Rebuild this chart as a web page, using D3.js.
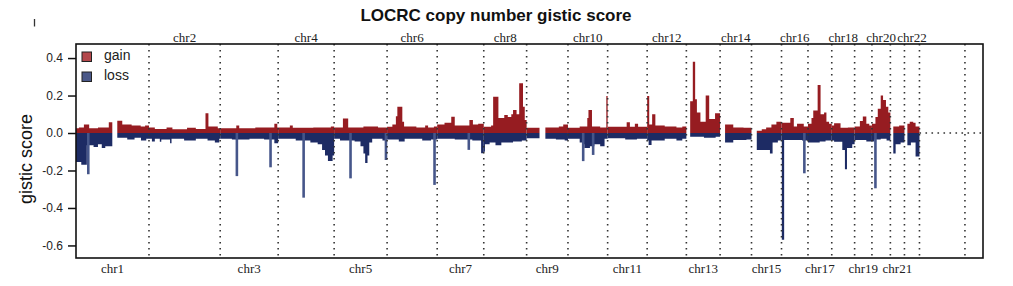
<!DOCTYPE html>
<html>
<head>
<meta charset="utf-8">
<script src="https://cdn.jsdelivr.net/npm/d3@7"></script>
<style>
body{margin:0;background:#fff}
svg{display:block}
</style>
</head>
<body>
<div id="chart"></div>
<script>
// chromosomes and their lengths (Mb)
var chroms=["chr1","chr2","chr3","chr4","chr5","chr6","chr7","chr8","chr9","chr10","chr11","chr12",
            "chr13","chr14","chr15","chr16","chr17","chr18","chr19","chr20","chr21","chr22","chrX"];
var chromLen=[249.3,243.2,198.0,191.2,180.9,171.1,159.1,146.4,141.2,135.5,135.0,133.9,
              115.2,107.3,102.5,90.4,81.2,78.1,59.1,63.0,48.1,51.3,155.3];

// gistic profile, one list per chromosome: [start Mb, score] holds until next start, null = no data
var gain=[
  [[0,0.025],[10,0.03],[27,0.046],[45,0.025],[75,0.03],[112,0.057],[124,null],[141,0.066],[158,0.045],[190,0.04],[221,0.035],[236,0.04]],
  [[0,0.03],[20,0.022],[60,0.03],[80,0.02],[130,0.028],[160,0.022],[193,0.105],[203,0.035],[235,0.025]],
  [[0,0.025],[55,0.04],[65,0.025],[120,0.03],[185,0.05],[195,0.03]],
  [[0,0.03],[40,0.04],[50,0.028],[120,0.03],[180,0.035]],
  [[0,0.03],[30,0.078],[48,0.03],[100,0.035],[150,0.03]],
  [[0,0.034],[18,0.045],[30,0.09],[35,0.14],[52,0.06],[58,0.035],[100,0.03],[130,0.04],[140,0.03],[160,0.035]],
  [[0,0.045],[25,0.055],[48,0.087],[60,0.04],[110,0.07],[122,0.045],[140,0.05]],
  [[0,0.034],[25,0.04],[32,0.194],[50,0.08],[70,0.096],[82,0.085],[94,0.1],[100,0.123],[112,0.1],[121,0.265],[134,0.14],[140,0.07]],
  [[0,0.028],[44,null],[64,0.03],[110,0.035],[125,0.046]],
  [[0,0.028],[40,0.035],[66,0.08],[70,0.123],[82,0.035],[110,0.03],[131,0.197]],
  [[0,0.034],[65,0.057],[76,0.034],[93,0.05],[104,0.034]],
  [[0,0.197],[7,0.045],[17,0.1],[28,0.04],[60,0.035],[100,0.03],[120,0.035]],
  [[0,null],[13,0.17],[22,0.38],[30,0.18],[36,0.11],[48,0.06],[66,0.2],[78,0.075],[98,0.105]],
  [[0,null],[17,0.046],[45,0.03],[80,0.028]],
  [[0,null],[18,0.012],[35,0.02],[50,0.03],[68,0.045],[85,0.06]],
  [[0,0.055],[30,0.08],[42,0.035],[53,0.05],[76,0.035]],
  [[0,0.05],[12,0.08],[18,0.12],[33,0.256],[43,0.1],[55,0.11],[63,0.06],[72,0.05]],
  [[0,0.04],[8,0.052],[30,0.028],[55,0.03]],
  [[0,0.035],[18,0.064],[28,0.088],[40,0.05],[50,0.04]],
  [[0,0.05],[12,0.085],[20,0.13],[30,0.2],[38,0.176],[48,0.14],[56,0.11]],
  [[0,null],[10,0.035],[30,0.04]],
  [[0,null],[10,0.05],[18,0.06],[30,0.055],[38,0.035]],
  []
];
var loss=[
  [[0,-0.155],[18,-0.17],[37,-0.065],[60,-0.075],[75,-0.06],[88,-0.08],[100,-0.07],[124,null],[141,-0.025],[175,-0.035],[200,-0.025],[222,-0.04],[240,-0.03]],
  [[0,-0.03],[10,-0.045],[20,-0.03],[37,-0.046],[42,-0.035],[72,-0.055],[77,-0.03],[120,-0.04],[160,-0.03],[200,-0.04],[225,-0.05],[240,-0.03]],
  [[0,-0.03],[40,-0.035],[100,-0.03],[150,-0.035],[185,-0.055]],
  [[0,-0.03],[60,-0.04],[110,-0.05],[135,-0.06],[150,-0.09],[160,-0.12],[170,-0.15],[186,-0.12]],
  [[0,-0.03],[20,-0.04],[70,-0.045],[90,-0.07],[100,-0.11],[106,-0.16],[114,-0.12],[120,-0.05],[130,-0.03],[165,-0.04]],
  [[0,-0.035],[40,-0.045],[60,-0.03],[120,-0.04],[150,-0.035]],
  [[0,-0.03],[60,-0.035],[120,-0.04],[150,-0.108]],
  [[0,-0.1],[4,-0.06],[20,-0.05],[40,-0.065],[60,-0.05],[100,-0.045],[130,-0.04]],
  [[0,-0.028],[44,null],[64,-0.03],[100,-0.035],[130,-0.04]],
  [[0,-0.03],[40,-0.05],[50,-0.06],[56,-0.08],[75,-0.07],[90,-0.06],[110,-0.07],[125,-0.03]],
  [[0,-0.028],[60,-0.035],[100,-0.03]],
  [[0,-0.04],[5,-0.064],[15,-0.04],[60,-0.03],[100,-0.04],[120,-0.03]],
  [[0,null],[13,-0.02],[60,-0.025],[100,-0.02]],
  [[0,null],[17,-0.05],[45,-0.037],[90,-0.035]],
  [[0,null],[18,-0.09],[63,-0.11],[72,-0.05],[90,-0.04]],
  [[0,-0.04],[1,-0.57],[9,-0.037],[70,-0.04]],
  [[0,-0.05],[40,-0.045],[60,-0.04]],
  [[0,-0.04],[8,-0.046],[36,-0.09],[45,-0.194],[52,-0.08],[70,-0.06]],
  [[0,-0.037],[40,-0.045]],
  [[0,-0.045],[8,-0.035],[30,-0.03],[50,-0.04]],
  [[0,null],[10,-0.11],[18,-0.06],[35,-0.05]],
  [[0,null],[10,-0.065],[22,-0.05],[38,-0.126]],
  []
];
// thin single-probe loss peaks: [chromosome, Mb, score]
var lossSpikes=[["chr1",42,-0.22],["chr3",57,-0.23],["chr3",172,-0.183],["chr4",87,-0.345],
  ["chr5",56,-0.242],["chr5",177,-0.144],["chr6",162,-0.277],["chr7",108,-0.09],
  ["chr10",52,-0.15],["chr10",86,-0.117],["chr16",78,-0.215],["chr20",12,-0.295]];
var yTicks=[-0.6,-0.4,-0.2,0,0.2,0.4];

var W=1013,H=286;
var margin={top:44,right:983,bottom:258,left:76};

var svg=d3.select("#chart").append("svg").attr("width",W).attr("height",H);

// cumulative offsets
var offs=[],acc=0;
chromLen.forEach(function(l){offs.push(acc);acc+=l;});

var x=d3.scaleLinear().domain([0,3098]).range([margin.left,margin.right]);
var y=d3.scaleLinear().domain([-0.667,0.475]).range([margin.bottom,margin.top]);

// turn step lists into continuous runs
function runs(steps,len){
  var out=[],cur=null;
  steps.forEach(function(s,i){
    var end=i<steps.length-1?steps[i+1][0]:len;
    if(s[1]===null){cur=null;return;}
    if(!cur){cur=[];out.push(cur);}
    cur.push([s[0],s[1]]);
    if(i===steps.length-1||steps[i+1][1]===null) cur.push([end,s[1]]);
  });
  return out;
}

var plot=svg.append("g");

function drawProfile(list,color){
  list.forEach(function(steps,ci){
    var off=offs[ci];
    var area=d3.area()
      .x(function(d){return x(off+d[0]);})
      .y0(y(0))
      .y1(function(d){return y(d[1]);})
      .curve(d3.curveStepAfter);
    runs(steps,chromLen[ci]).forEach(function(r){
      plot.append("path").attr("d",area(r)).attr("fill",color);
    });
  });
}
drawProfile(loss,"#1d2b64");
drawProfile(gain,"#961c21");

plot.selectAll("line.spike")
  .data(lossSpikes)
  .enter()
  .append("line")
  .attr("class","spike")
  .attr("x1",function(d){return x(offs[chroms.indexOf(d[0])]+d[1]);})
  .attr("x2",function(d){return x(offs[chroms.indexOf(d[0])]+d[1]);})
  .attr("y1",y(0))
  .attr("y2",function(d){return y(d[2]);})
  .attr("stroke","#46568a")
  .attr("stroke-width",2.6);

// chromosome separators
svg.append("g").selectAll("line")
  .data(chromLen)
  .enter()
  .append("line")
  .attr("x1",function(d,i){return x(offs[i]+d);})
  .attr("x2",function(d,i){return x(offs[i]+d);})
  .attr("y1",margin.top)
  .attr("y2",margin.bottom)
  .attr("stroke","#333")
  .attr("stroke-width",1.6)
  .attr("stroke-dasharray","1.6,4.4");

// empty chrX baseline
svg.append("line")
  .attr("x1",x(offs[22])).attr("x2",margin.right)
  .attr("y1",y(0)).attr("y2",y(0))
  .attr("stroke","#333").attr("stroke-width",1.6)
  .attr("stroke-dasharray","1.6,4.4");

// box
svg.append("rect")
  .attr("x",margin.left).attr("y",margin.top)
  .attr("width",margin.right-margin.left).attr("height",margin.bottom-margin.top)
  .attr("fill","none").attr("stroke","#111").attr("stroke-width",1.6);

// y axis
var yAxis=svg.append("g")
  .attr("transform","translate("+margin.left+",0)")
  .call(d3.axisLeft(y).tickValues(yTicks).tickSize(8).tickPadding(5)
    .tickFormat(function(d){return d.toFixed(1);}));
yAxis.select(".domain").remove();
yAxis.selectAll("line").attr("stroke","#111").attr("stroke-width",1.5);
yAxis.selectAll("text").attr("fill","#222")
  .style("font-family","'Liberation Sans',Arial,sans-serif").style("font-size","12px");

// chromosome labels: odd below, even above
svg.append("g").selectAll("text")
  .data(chroms.slice(0,22))
  .enter()
  .append("text")
  .attr("x",function(d,i){return x(offs[i]+chromLen[i]/2);})
  .attr("y",function(d,i){return i%2===0?273:41.5;})
  .attr("text-anchor","middle")
  .style("font-family","'Liberation Serif','Times New Roman',serif")
  .style("font-size","13px")
  .attr("fill","#222")
  .text(function(d){return d;});

// title
svg.append("text")
  .attr("x",496).attr("y",20.5)
  .attr("text-anchor","middle")
  .style("font-family","'Liberation Sans',Arial,sans-serif")
  .style("font-size","17px").style("font-weight","bold")
  .attr("fill","#111")
  .text("LOCRC copy number gistic score");

// y label
svg.append("text")
  .attr("transform","translate(32,159) rotate(-90)")
  .attr("text-anchor","middle")
  .style("font-family","'Liberation Sans',Arial,sans-serif")
  .style("font-size","18px")
  .attr("fill","#111")
  .text("gistic score");

// stray mark at top left
svg.append("line")
  .attr("x1",34.5).attr("x2",34.5).attr("y1",19).attr("y2",26.5)
  .attr("stroke","#333").attr("stroke-width",1.3);

// legend
var legend=[["gain","#b3474b"],["loss","#4a5888"]];
var lg=svg.append("g").selectAll("g")
  .data(legend)
  .enter()
  .append("g")
  .attr("transform",function(d,i){return "translate(82,"+(52+i*20)+")";});
lg.append("rect")
  .attr("width",9.5).attr("height",9.5)
  .attr("fill",function(d){return d[1];})
  .attr("stroke","#222").attr("stroke-width",1);
lg.append("text")
  .attr("x",22).attr("y",8)
  .style("font-family","'Liberation Sans',Arial,sans-serif")
  .style("font-size","14px")
  .attr("fill","#222")
  .text(function(d){return d[0];});
</script>
</body>
</html>
